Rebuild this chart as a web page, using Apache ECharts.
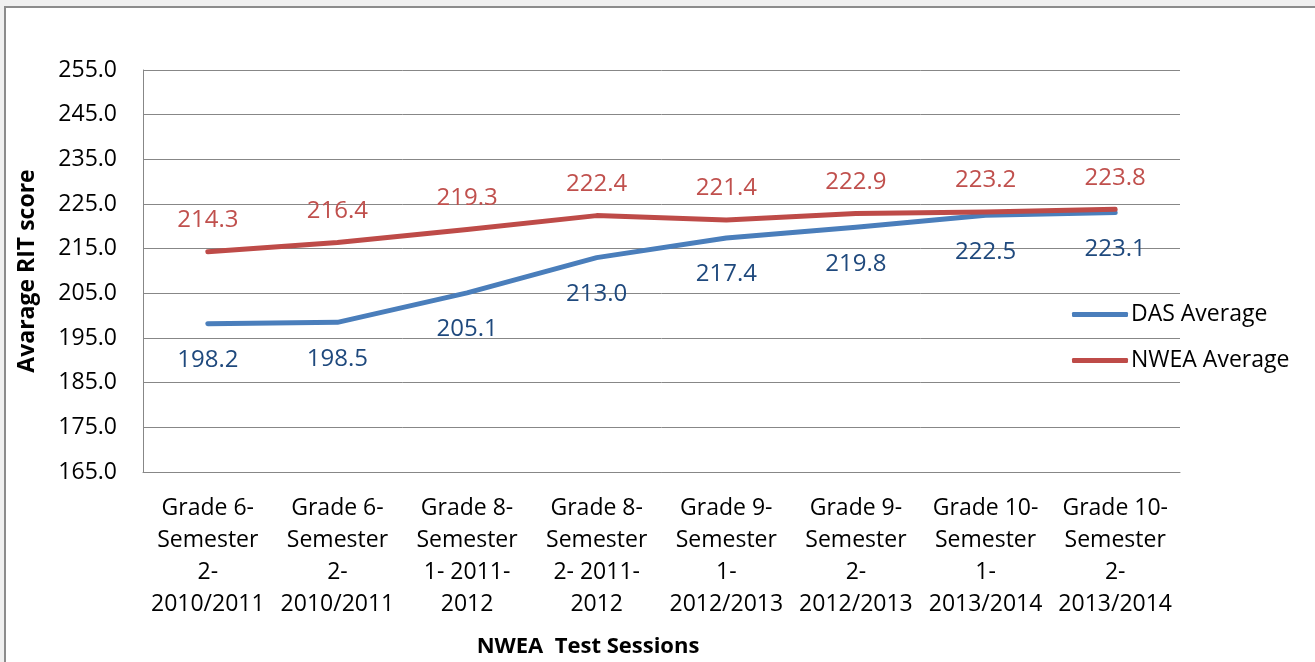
<!DOCTYPE html>
<html>
<head>
<meta charset="utf-8">
<script src="https://cdn.jsdelivr.net/npm/echarts@6/dist/echarts.min.js"></script>
<style>
  html, body { margin: 0; padding: 0; background: #f0f0f0; overflow: hidden; }
  #frame {
    position: absolute; left: 4px; top: 6px; width: 1330px; height: 680px;
    background: #fff; border-left: 2px solid #8c8c8c; border-top: 2px solid #8c8c8c;
  }
  #chart { position: absolute; left: 0; top: 0; width: 1315px; height: 662px; }
</style>
</head>
<body>
<div id="frame"></div>
<div id="chart"></div>
<script>
// 测试场次（x 轴类目）
const sessions = [
  'Grade 6-\nSemester\n2-\n2010/2011',
  'Grade 6-\nSemester\n2-\n2010/2011',
  'Grade 8-\nSemester\n1- 2011-\n2012',
  'Grade 8-\nSemester\n2- 2011-\n2012',
  'Grade 9-\nSemester\n1-\n2012/2013',
  'Grade 9-\nSemester\n2-\n2012/2013',
  'Grade 10-\nSemester\n1-\n2013/2014',
  'Grade 10-\nSemester\n2-\n2013/2014'
];

// 两条折线的数值
const dasAverage = [198.2, 198.5, 205.1, 213.0, 217.4, 219.8, 222.5, 223.1];
const nweaAverage = [214.3, 216.4, 219.3, 222.4, 221.4, 222.9, 223.2, 223.8];

// y 轴范围
const yMin = 165;
const yMax = 255;
const yStep = 10;

const FONT = '"Open Sans"';
const GRID_COLOR = '#878787';

const chart = echarts.init(document.getElementById('chart'));

const lineSeries = (name, data, lineColor, labelColor, pos, dist) => ({
  name,
  type: 'line',
  data,
  symbol: 'circle',
  symbolSize: 1,
  showSymbol: true,
  lineStyle: { color: lineColor, width: 5, cap: 'round', join: 'round' },
  itemStyle: { color: lineColor },
  label: {
    show: true,
    position: pos,
    distance: dist,
    color: labelColor,
    fontFamily: FONT,
    fontSize: 24,
    formatter: (p) => p.value.toFixed(1)
  },
  emphasis: { disabled: true },
  z: name === 'NWEA Average' ? 3 : 2
});

chart.setOption({
  animation: false,
  backgroundColor: 'transparent',
  textStyle: { fontFamily: FONT },
  grid: { left: 143, right: 135, top: 70, bottom: 190 },
  legend: {
    orient: 'vertical',
    left: 1067,
    top: 298,
    itemWidth: 56,
    itemHeight: 5,
    itemGap: 23,
    icon: 'roundRect',
    data: ['DAS Average', 'NWEA Average'],
    textStyle: { fontFamily: FONT, fontSize: 23, color: '#000', padding: [0, 0, 0, -2] }
  },
  xAxis: {
    type: 'category',
    data: sessions,
    boundaryGap: true,
    axisLine: { lineStyle: { color: GRID_COLOR, width: 1 } },
    axisTick: { show: false },
    axisLabel: {
      interval: 0,
      margin: 20,
      color: '#000',
      fontFamily: FONT,
      fontSize: 23,
      lineHeight: 32,
      align: 'center'
    }
  },
  yAxis: {
    type: 'value',
    min: yMin,
    max: yMax,
    interval: yStep,
    name: 'Avarage RIT score',
    nameLocation: 'middle',
    nameGap: 104,
    nameTextStyle: { fontFamily: FONT, fontSize: 23, fontWeight: 'bold', color: '#000' },
    axisLine: { show: true, lineStyle: { color: GRID_COLOR, width: 1 } },
    axisTick: { show: false },
    splitLine: { lineStyle: { color: GRID_COLOR, width: 1 } },
    axisLabel: {
      margin: 26,
      color: '#000',
      fontFamily: FONT,
      fontSize: 23,
      formatter: (v) => v.toFixed(1)
    }
  },
  graphic: [{
    type: 'text',
    x: 588,
    y: 647,
    style: {
      text: 'NWEA  Test Sessions',
      fontFamily: FONT,
      fontSize: 22,
      fontWeight: 'bold',
      fill: '#000',
      align: 'center',
      verticalAlign: 'middle'
    }
  }],
  series: [
    lineSeries('DAS Average', dasAverage, '#4a7ebb', '#1f497d', 'bottom', 24),
    lineSeries('NWEA Average', nweaAverage, '#be4b48', '#c0504d', 'top', 19)
  ]
});
</script>
</body>
</html>
